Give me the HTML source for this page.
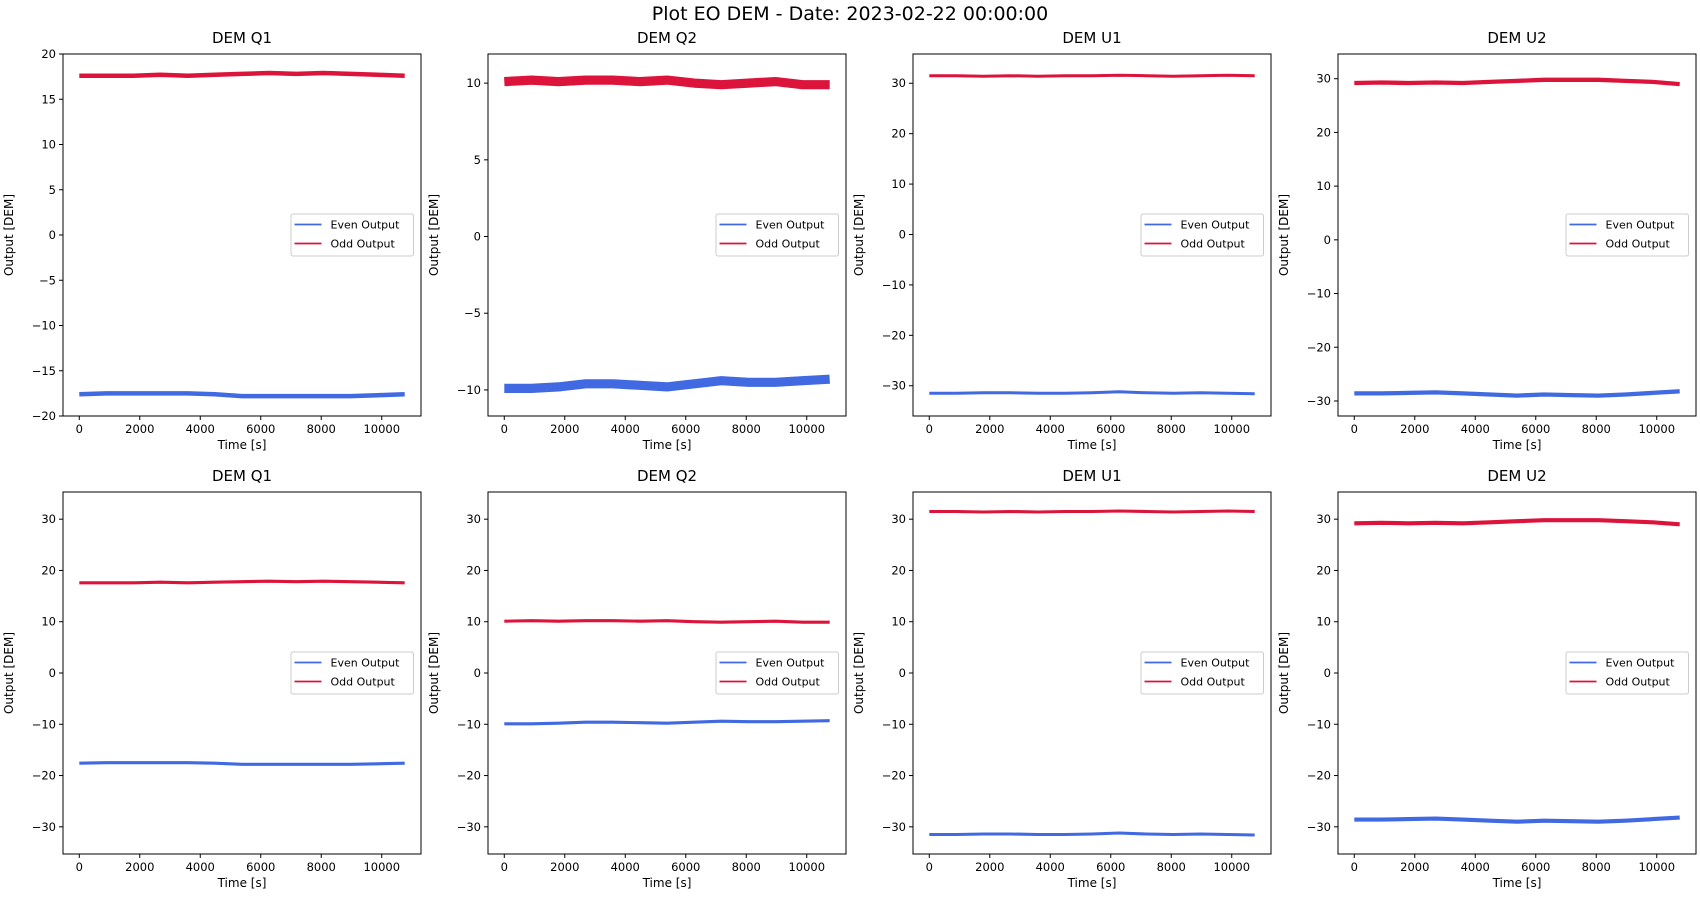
<!DOCTYPE html>
<html><head><meta charset="utf-8">
<style>
body{margin:0;background:#fff;}
svg{display:block;font-family:"DejaVu Sans","Liberation Sans",sans-serif;}
</style></head>
<body>
<svg id="fig" width="1700" height="900" viewBox="0 0 1700 900" xmlns="http://www.w3.org/2000/svg">
<rect width="1700" height="900" fill="#fff"/>
<text x="850" y="20" font-size="19" text-anchor="middle">Plot EO DEM - Date: 2023-02-22 00:00:00</text>
</svg>
<script>
const titles = ["DEM Q1","DEM Q2","DEM U1","DEM U2","DEM Q1","DEM Q2","DEM U1","DEM U2"];
const timeSamples = [0,897,1793,2690,3587,4483,5380,6277,7173,8070,8967,9863,10760];
const xTicks = [0,2000,4000,6000,8000,10000];
const yDomains = [[-20,20],[-11.7,11.9],[-36,35.8],[-32.8,34.6],[-35.3,35.3],[-35.3,35.3],[-35.3,35.3],[-35.3,35.3]];
const yTickSets = [[-20,-15,-10,-5,0,5,10,15,20],[-10,-5,0,5,10],[-30,-20,-10,0,10,20,30],[-30,-20,-10,0,10,20,30],
 [-30,-20,-10,0,10,20,30],[-30,-20,-10,0,10,20,30],[-30,-20,-10,0,10,20,30],[-30,-20,-10,0,10,20,30]];
const oddQ1 = [17.6,17.6,17.6,17.7,17.6,17.7,17.8,17.9,17.8,17.9,17.8,17.7,17.6];
const evenQ1 = [-17.6,-17.5,-17.5,-17.5,-17.5,-17.6,-17.8,-17.8,-17.8,-17.8,-17.8,-17.7,-17.6];
const oddQ2 = [10.1,10.2,10.1,10.2,10.2,10.1,10.2,10.0,9.9,10.0,10.1,9.9,9.9];
const evenQ2 = [-9.9,-9.9,-9.8,-9.6,-9.6,-9.7,-9.8,-9.6,-9.4,-9.5,-9.5,-9.4,-9.3];
const oddU1 = [31.5,31.5,31.4,31.5,31.4,31.5,31.5,31.6,31.5,31.4,31.5,31.6,31.5];
const evenU1 = [-31.5,-31.5,-31.4,-31.4,-31.5,-31.5,-31.4,-31.2,-31.4,-31.5,-31.4,-31.5,-31.6];
const oddU2 = [29.2,29.3,29.2,29.3,29.2,29.4,29.6,29.8,29.8,29.8,29.6,29.4,29.0];
const evenU2 = [-28.6,-28.6,-28.5,-28.4,-28.6,-28.8,-29.0,-28.8,-28.9,-29.0,-28.8,-28.5,-28.2];
const noiseBand = [0.5,0.6,0.6,0.8,0.6,0.6,0.6,0.8];
const oddSeries = [oddQ1,oddQ2,oddU1,oddU2,oddQ1,oddQ2,oddU1,oddU2];
const evenSeries = [evenQ1,evenQ2,evenU1,evenU2,evenQ1,evenQ2,evenU1,evenU2];

const NS="http://www.w3.org/2000/svg";
const fig=document.getElementById('fig');
function mk(tag,attrs,parent){const e=document.createElementNS(NS,tag);for(const k in attrs)e.setAttribute(k,attrs[k]);(parent||fig).appendChild(e);return e;}
const colLefts=[63,488,913,1338], rowTops=[54,492], W=358, H=362;
const xMin=-538, xMax=11298;
for(let i=0;i<8;i++){
  const L=colLefts[i%4], T=rowTops[Math.floor(i/4)];
  const g=mk('g',{});
  
  
  const [y0,y1]=yDomains[i];
  const xs=v=>L+(v-xMin)/(xMax-xMin)*W;
  const ys=v=>T+H-(v-y0)/(y1-y0)*H;
  const t=mk('text',{x:L+W/2,y:T-11,'font-size':15,'text-anchor':'middle'},g);t.textContent=titles[i];
  
  
  const band=noiseBand[i]/(y1-y0)*H;
  [[evenSeries[i],'#4169e1','even-output-line'],[oddSeries[i],'#dc143c','odd-output-line']].forEach(([arr,c,n])=>{
    const d=arr.map((v,k)=>(k?'L':'M')+xs(timeSamples[k]).toFixed(1)+' '+ys(v).toFixed(1)).join(' ');
    const p=mk('path',{d:d,fill:'none',stroke:c,'stroke-width':Math.max(2.5,band).toFixed(1),'stroke-linejoin':'round'},g);
    
    
  });
  mk('rect',{x:L,y:T,width:W,height:H,fill:'none',stroke:'#000','stroke-width':1},g);
  xTicks.forEach(v=>{
    const x=xs(v);
    mk('line',{x1:x,x2:x,y1:T+H,y2:T+H+4,stroke:'#000'},g);
    const tx=mk('text',{x:x,y:T+H+17,'font-size':11.5,'text-anchor':'middle'},g);tx.textContent=v;
    
    
  });
  yTickSets[i].forEach(v=>{
    const y=ys(v);
    mk('line',{x1:L-4,x2:L,y1:y,y2:y,stroke:'#000'},g);
    const ty=mk('text',{x:L-7,y:y+4,'font-size':11.5,'text-anchor':'end'},g);ty.textContent=(v<0?'\u2212'+(-v):v);
    
    
  });
  const xl=mk('text',{x:L+W/2,y:T+H+33,'font-size':12,'text-anchor':'middle'},g);xl.textContent='Time [s]';
  
  
  const yl=mk('text',{x:0,y:0,'font-size':12,'text-anchor':'middle',transform:`translate(${L-50},${T+H/2}) rotate(-90)`},g);yl.textContent='Output [DEM]';
  
  
  const lg=mk('g',{},g);
  
  
  const lx=L+W-130, ly=T+H/2-21;
  mk('rect',{x:lx,y:ly,width:122.5,height:42,rx:2,fill:'#fff',stroke:'#ccc'},lg);
  [['Even Output','#4169e1'],['Odd Output','#dc143c']].forEach(([lab,c],k)=>{
    const yy=ly+10.5+k*19;
    mk('line',{x1:lx+3.5,x2:lx+30.5,y1:yy,y2:yy,stroke:c,'stroke-width':1.8},lg);
    const lt=mk('text',{x:lx+39.5,y:yy+4,'font-size':11},lg);lt.textContent=lab;
    
    
  });
}
</script>
</body></html>
